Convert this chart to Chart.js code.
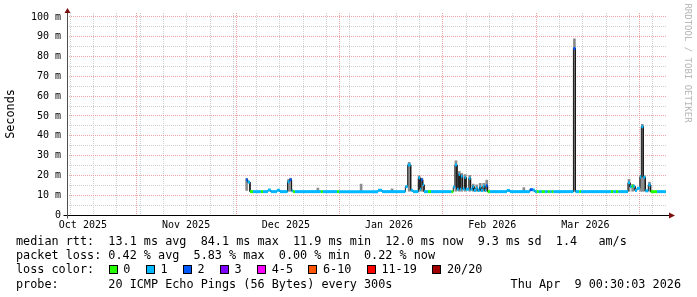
<!DOCTYPE html>
<html>
<head>
<meta charset="utf-8">
<script src="https://cdn.jsdelivr.net/npm/chart.js@4.4.1/dist/chart.umd.min.js"></script>
<style>
  body { margin: 0; background: #fff; }
  #wrap { position: relative; width: 697px; height: 297px; overflow: hidden; background: #fff; }
  #c { position: absolute; left: 0; top: 0; }
  .txt { position: absolute; font-family: "DejaVu Sans Mono", monospace; font-size: 11.8px; line-height: 14px; white-space: pre; color: #000; }
  .ylab { left: -20px; top: 107px; width: 60px; text-align: center; transform: rotate(-90deg); }
  .mark { left: 628px; top: 56px; width: 120px; text-align: center; font-size: 9px; color: #b4b4b4; transform: rotate(90deg); }
  .box { position: absolute; width: 9px; height: 9px; box-sizing: border-box; border: 1px solid #000; }
</style>
</head>
<body>
<div id="wrap">
  <canvas id="c" width="697" height="297"></canvas>
  <div class="txt ylab">Seconds</div>
  <div class="txt mark">RRDTOOL / TOBI OETIKER</div>
  <div class="txt" style="left:16px;top:234px">median rtt:  13.1 ms avg  84.1 ms max  11.9 ms min  12.0 ms now  9.3 ms sd  1.4   am/s</div>
  <div class="txt" style="left:16px;top:248px">packet loss: 0.42 % avg  5.83 % max  0.00 % min  0.22 % now</div>
  <div class="txt" style="left:16px;top:262px">loss color:</div>
  <div class="txt" style="left:16px;top:277px">probe:       20 ICMP Echo Pings (56 Bytes) every 300s</div>
  <div class="txt" style="right:16px;top:277px">Thu Apr  9 00:30:03 2026</div>
</div>
<script>
// loss bins, as in the legend
const lossLabels = ["0", "1", "2", "3", "4-5", "6-10", "11-19", "20/20"];
const lossColors = ["#26ff00", "#00b8ff", "#0059ff", "#7e00ff", "#ff00ff", "#ff5500", "#ff0000", "#a10000"];

// median rtt: start of each step (days since 1 Oct 2025), median (ms), loss bin
const sampleDay = [
  63.8, 64.3, 65.0, 65.9, 68.3, 68.9, 70.4, 71.3, 73.1, 74.0,
  76.3, 76.9, 77.5, 77.9, 78.5, 86.3, 86.9, 91.2, 91.8, 103.5,
  104.7, 111.7, 112.4, 113.3, 114.0, 115.6, 116.1, 116.4, 116.9, 117.3,
  118.5, 119.4, 125.6, 126.1, 126.6, 127.2, 127.7, 128.1, 128.4, 128.9,
  129.5, 129.9, 130.8, 131.3, 131.9, 132.3, 132.9, 133.4, 134.0, 134.4,
  135.0, 135.5, 135.9, 136.4, 137.1, 142.2, 143.1, 149.1, 150.0, 150.6,
  151.2, 151.8, 152.7, 153.6, 154.5, 155.1, 155.7, 156.2, 162.2, 162.8,
  164.0, 164.5, 173.5, 174.2, 175.0, 175.7, 178.6, 179.2, 179.7, 180.2,
  180.7, 181.3, 182.2, 182.6, 183.2, 183.8, 184.7, 185.4, 187.3
];
const medianMs = [
  17.8, 16.6, 11.8, 11.8, 11.8, 11.8, 12.6, 11.8, 12.5, 11.8,
  16.8, 17.8, 12.3, 11.8, 11.8, 11.8, 11.8, 11.8, 11.8, 12.5,
  11.8, 14.3, 25.3, 12.5, 11.8, 18.8, 13.0, 17.8, 15.3, 11.8,
  11.8, 11.8, 11.8, 14.2, 25.3, 13.0, 20.5, 13.0, 19.6, 13.2,
  19.0, 13.0, 18.6, 13.0, 14.4, 12.4, 13.6, 12.4, 14.2, 12.4,
  14.6, 12.4, 14.8, 11.8, 11.8, 12.4, 11.8, 12.8, 12.6, 11.8,
  11.8, 11.8, 11.8, 11.8, 11.8, 11.8, 11.8, 11.8, 84.1, 11.8,
  11.8, 11.8, 11.8, 11.8, 11.8, 11.8, 16.3, 14.3, 14.6, 14.5,
  12.4, 13.5, 19.2, 44.6, 19.0, 12.2, 15.2, 11.8, 11.8
];
const lossBin = [
  2, 1, 0, 1, 0, 1, 1, 1, 1, 1,
  1, 2, 1, 0, 1, 0, 1, 0, 1, 1,
  1, 1, 1, 1, 1, 1, 1, 2, 1, 1,
  0, 1, 0, 1, 1, 1, 1, 1, 1, 1,
  1, 1, 1, 1, 1, 1, 1, 1, 1, 1,
  1, 1, 2, 0, 1, 1, 1, 2, 1, 1,
  0, 1, 0, 1, 0, 1, 0, 1, 2, 1,
  0, 1, 0, 1, 0, 1, 1, 1, 0, 1,
  1, 1, 1, 1, 1, 1, 1, 0, 1
];
const lastDay = 190.0;

// smoke (spread of the pings) where it shows above the median
const smokeDay = [
  64.0, 76.6, 77.2, 85.4, 98.4, 107.7, 112.85, 115.85, 116.65, 126.9,
  127.9, 128.65, 129.7, 131.05, 132.1, 133.15, 134.2, 135.25, 136.15, 147.3,
  162.5, 178.9, 180.0, 182.4, 182.9, 183.5, 185.05
];
const smokeLow = [
  12.4, 12.0, 12.0, 11.8, 11.8, 11.8, 12.0, 12.0, 12.0, 12.0,
  12.0, 12.0, 12.0, 12.0, 12.0, 12.0, 12.0, 12.0, 12.0, 11.8,
  12.0, 12.0, 12.0, 12.0, 12.0, 12.0, 12.0
];
const smokeHigh = [
  18.4, 18.0, 18.6, 13.6, 15.6, 13.2, 26.6, 19.8, 18.6, 27.4,
  22.0, 21.0, 20.4, 20.0, 15.6, 15.2, 16.0, 16.0, 17.6, 13.8,
  89.0, 18.0, 15.4, 20.0, 45.8, 19.8, 16.6
];

// time axis
const monthStarts = [0, 31, 61, 92, 123, 151, 182];
const monthLabels = ["Oct 2025", "Nov 2025", "Dec 2025", "Jan 2026", "Feb 2026", "Mar 2026", "Apr 2026"];
const firstSunday = 11;
const xMin = 10.02, xMax = 190.02;

/* ===== build ===== */
const medPts = [];
sampleDay.forEach((d, i) => {
  const end = i + 1 < sampleDay.length ? sampleDay[i + 1] : lastDay;
  medPts.push({ x: d, y: medianMs[i] }, { x: end, y: medianMs[i] });
});
const smokePts = smokeDay.map((d, i) => ({ x: d, y: [smokeLow[i], smokeHigh[i]] }));

const weekLines = [];
for (let d = firstSunday; d < xMax; d += 7) {
  if (!monthStarts.includes(d)) weekLines.push(d);
}
const labelAt = {};
monthStarts.forEach((d, i) => { labelAt[(d + 14.8).toFixed(1)] = monthLabels[i]; });
const labelDays = Object.keys(labelAt).map(Number).filter(d => d < xMax);
const xTicks = [...monthStarts.filter(d => d > xMin && d < xMax), ...weekLines, ...labelDays];

const yTicks = [];
for (let v = 0; v <= 100; v += 5) yTicks.push(v);

const RED = "#e8a2a2";
const GRAY = "#d0d0d0";
const mono = { family: "DejaVu Sans Mono", size: 10 };

const axesPlugin = {
  id: "rrdAxes",
  afterDatasetsDraw(chart) {
    const { ctx, chartArea: a } = chart;
    const y0 = Math.round(chart.scales.y.getPixelForValue(0)) + 0.5;
    const x0 = Math.round(a.left) + 0.5;
    ctx.save();
    ctx.lineWidth = 1;
    ctx.strokeStyle = "#000";
    ctx.beginPath();
    ctx.moveTo(x0 - 4, y0);
    ctx.lineTo(a.right + 4, y0);
    ctx.stroke();
    ctx.strokeStyle = "#505050";
    ctx.beginPath();
    ctx.moveTo(x0, y0 + 3);
    ctx.lineTo(x0, 13);
    ctx.stroke();
    ctx.fillStyle = "#7a1010";
    ctx.beginPath();
    ctx.moveTo(x0 - 3, 13);
    ctx.lineTo(x0 + 3, 13);
    ctx.lineTo(x0, 8);
    ctx.closePath();
    ctx.fill();
    ctx.beginPath();
    ctx.moveTo(a.right + 3, y0 - 3);
    ctx.lineTo(a.right + 3, y0 + 3);
    ctx.lineTo(a.right + 9, y0);
    ctx.closePath();
    ctx.fill();
    ctx.restore();
  }
};

new Chart(document.getElementById("c"), {
  type: "line",
  data: {
    datasets: [
      {
        type: "line",
        data: medPts,
        order: 1,
        borderWidth: 3,
        borderColor: lossColors[1],
        pointRadius: 0,
        segment: {
          borderColor: ctx => ctx.p0DataIndex % 2
            ? "rgba(0,0,0,0)"
            : lossColors[lossBin[ctx.p0DataIndex >> 1]]
        }
      },
      {
        type: "line",
        data: medPts,
        order: 2,
        borderWidth: 1,
        borderColor: "#1a1a1a",
        pointRadius: 0
      },
      {
        type: "bar",
        data: smokePts,
        order: 3,
        backgroundColor: "#8c8c8c",
        barThickness: 2
      }
    ]
  },
  options: {
    responsive: false,
    animation: false,
    events: [],
    layout: { padding: { top: 13, right: 31, left: 0, bottom: 0 } },
    plugins: { legend: { display: false }, tooltip: { enabled: false } },
    scales: {
      x: {
        type: "linear",
        min: xMin,
        max: xMax,
        offset: false,
        afterFit: s => { s.height = 82; },
        afterBuildTicks: s => { s.ticks = xTicks.map(v => ({ value: v })); },
        grid: {
          offset: false,
          drawTicks: false,
          color: c => monthStarts.includes(c.tick.value) ? RED : GRAY,
          lineWidth: c => labelDays.includes(c.tick.value) ? 0 : 1
        },
        border: { display: false, dash: [1, 1] },
        ticks: {
          autoSkip: false,
          maxRotation: 0,
          padding: 4,
          color: "#000",
          font: mono,
          callback: v => labelAt[Number(v).toFixed(1)] && labelDays.includes(v) ? labelAt[Number(v).toFixed(1)] : ""
        }
      },
      y: {
        min: 0,
        max: 102.02,
        afterFit: s => { s.width = 67; },
        afterBuildTicks: s => { s.ticks = yTicks.map(v => ({ value: v })); },
        grid: {
          drawTicks: false,
          color: c => c.tick.value === 0 ? "rgba(0,0,0,0)" : (c.tick.value % 10 === 0 ? RED : GRAY)
        },
        border: { display: false, dash: [1, 1] },
        ticks: {
          autoSkip: false,
          padding: 6,
          color: "#000",
          font: mono,
          callback: v => v % 10 ? "" : (v === 0 ? "0" : v + " m")
        }
      }
    }
  },
  plugins: [axesPlugin]
});

/* ===== loss color legend ===== */
const wrap = document.getElementById("wrap");
let left = 108.6;
lossLabels.forEach((lab, i) => {
  const box = document.createElement("div");
  box.className = "box";
  box.style.left = left + "px";
  box.style.top = "265px";
  box.style.background = lossColors[i];
  wrap.appendChild(box);
  const t = document.createElement("div");
  t.className = "txt";
  t.style.left = (left + 14.7) + "px";
  t.style.top = "262px";
  t.textContent = lab;
  wrap.appendChild(t);
  left += 30 + 7.1 * lab.length;
});
</script>
</body>
</html>
